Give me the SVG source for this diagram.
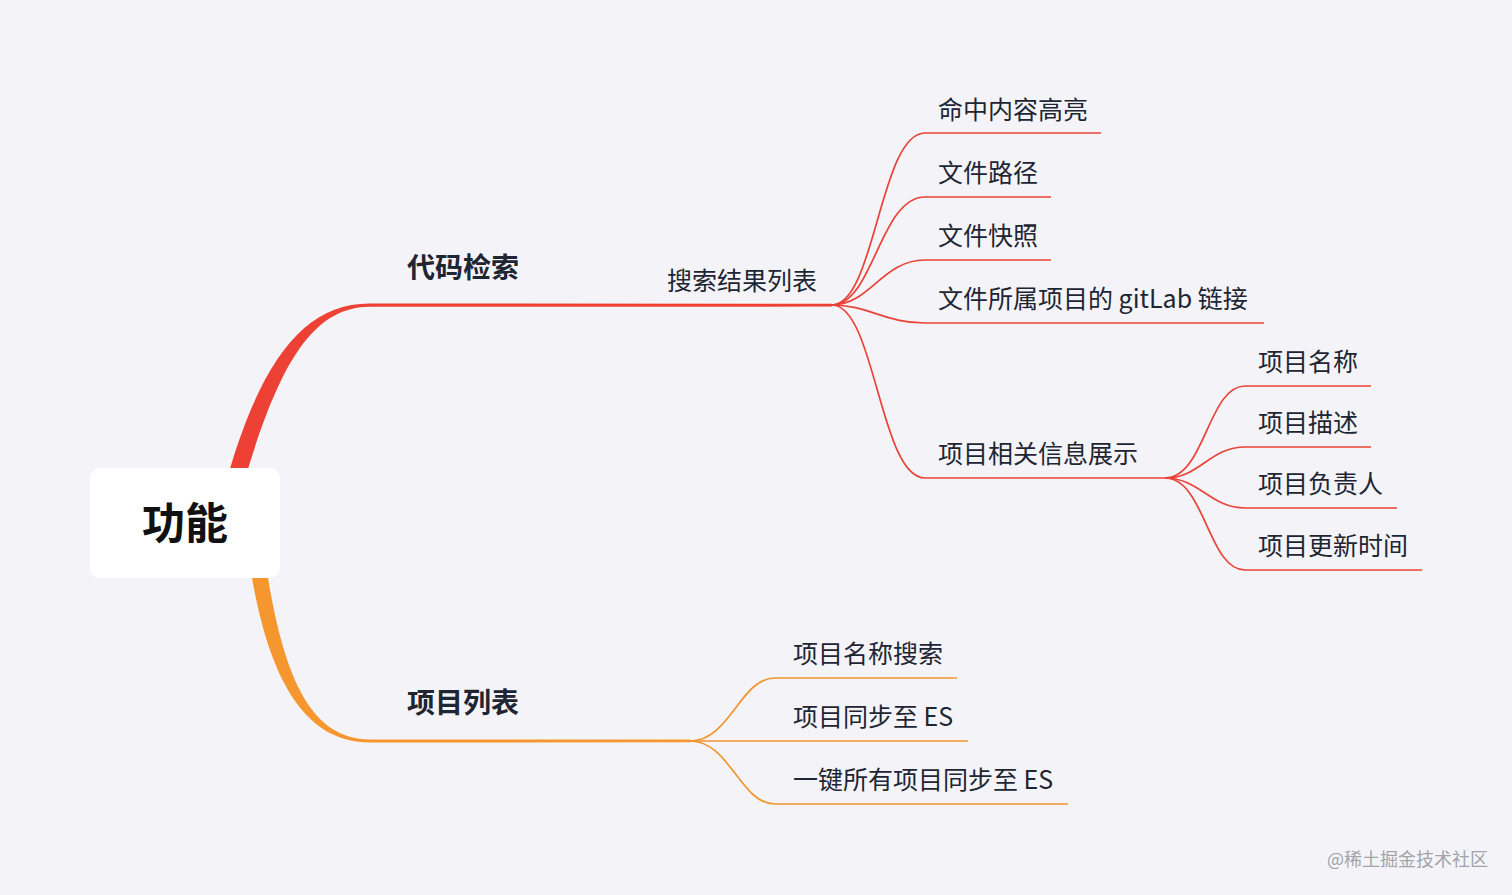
<svg xmlns="http://www.w3.org/2000/svg" width="1512" height="895" viewBox="0 0 1512 895">
<style>
.t{font-family:"Noto Sans CJK SC","Noto Sans",sans-serif;fill:#1e2533;font-size:25px}
.b{font-weight:bold;font-size:28px}
.r{fill:none;stroke:#ea4236;stroke-width:1.7}
.o{fill:none;stroke:#f0952e;stroke-width:1.7}
</style>
<rect width="1512" height="895" fill="#f4f4f8"/>
<g id="connectors">
<path d="M229 472 C262 360 305 303 370 303.5 L832 303.8 L832 306.6 L370 306.8 C312 307 280 365 247 472 Z" fill="#ee4136"/>
<path d="M252 578 C270 680 305 742.5 370 742.6 L690 742.3 L690 739.6 L370 739.4 C312 739.5 285 680 268 578 Z" fill="#f5962f"/>
<path class="r" d="M832 305 C875 305 880 133 925 133 L1101 133"/>
<path class="r" d="M832 305 C873 305 880 197 925 197 L1051 197"/>
<path class="r" d="M832 305 C870 305 882 260 925 260 L1051 260"/>
<path class="r" d="M832 305 C868 305 885 323 925 323 L1264 323"/>
<path class="r" d="M832 305 C875 305 880 478 925 478 L1165 478"/>
<path class="r" d="M1165 478 C1205 478 1208 386 1245 386 L1371 386"/>
<path class="r" d="M1165 478 C1200 478 1210 447 1245 447 L1371 447"/>
<path class="r" d="M1165 478 C1200 478 1210 508 1245 508 L1397 508"/>
<path class="r" d="M1165 478 C1205 478 1208 570 1245 570 L1422 570"/>
<path class="o" d="M690 741 C730 741 740 678 775 678 L957 678"/>
<path class="o" d="M690 741 L968 741"/>
<path class="o" d="M690 741 C730 741 740 804 775 804 L1068 804"/>
</g>
<g id="root">
<rect x="90" y="468" width="190" height="110" rx="10" fill="#ffffff"/>
<text class="t" x="185" y="539" text-anchor="middle" style="font-size:43px;font-weight:bold;fill:#111">功能</text>
</g>
<g id="n-daima"><text class="t b" x="407" y="278">代码检索</text></g>
<g id="n-sousuo"><text class="t" x="667" y="290">搜索结果列表</text></g>
<g id="n-mingzhong"><text class="t" x="938" y="119">命中内容高亮</text></g>
<g id="n-lujing"><text class="t" x="938" y="182">文件路径</text></g>
<g id="n-kuaizhao"><text class="t" x="938" y="245">文件快照</text></g>
<g id="n-gitlab"><text class="t" x="938" y="308">文件所属项目的 gitLab 链接</text></g>
<g id="n-xiangguan"><text class="t" x="938" y="463">项目相关信息展示</text></g>
<g id="n-mingcheng"><text class="t" x="1258" y="371">项目名称</text></g>
<g id="n-miaoshu"><text class="t" x="1258" y="432">项目描述</text></g>
<g id="n-fuzeren"><text class="t" x="1258" y="493">项目负责人</text></g>
<g id="n-gengxin"><text class="t" x="1258" y="555">项目更新时间</text></g>
<g id="n-liebiao"><text class="t b" x="407" y="713">项目列表</text></g>
<g id="n-mcsousuo"><text class="t" x="793" y="663">项目名称搜索</text></g>
<g id="n-tongbu"><text class="t" x="793" y="726">项目同步至 ES</text></g>
<g id="n-yijian"><text class="t" x="793" y="789">一键所有项目同步至 ES</text></g>
<text x="1327" y="866" style="font-family:'Noto Sans CJK SC',sans-serif;font-size:18px;fill:#a3a3aa">@稀土掘金技术社区</text>
</svg>
